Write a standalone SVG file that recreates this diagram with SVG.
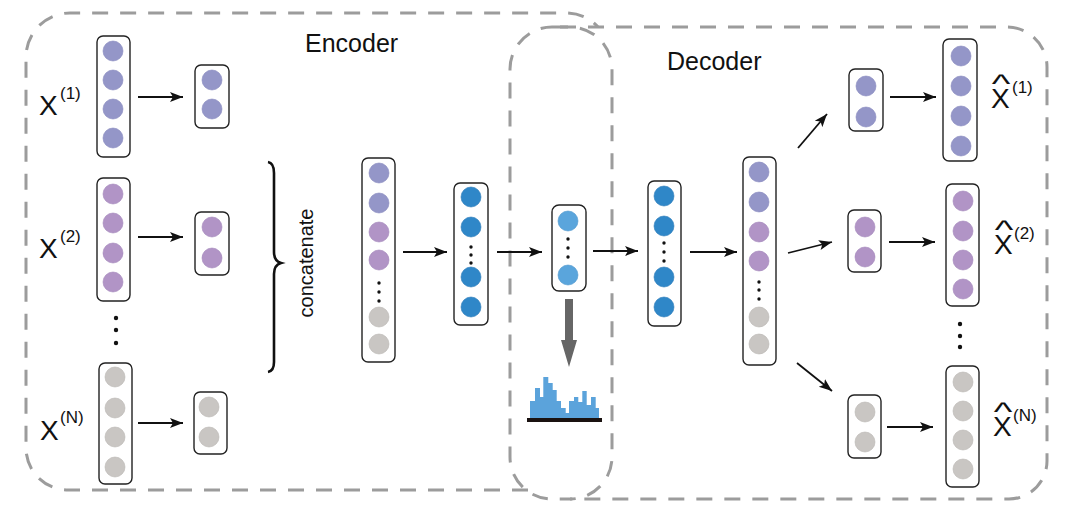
<svg xmlns="http://www.w3.org/2000/svg" width="1085" height="514" viewBox="0 0 1085 514">
<defs>
<marker id="ah" markerUnits="userSpaceOnUse" markerWidth="14" markerHeight="12" refX="13" refY="5" orient="auto" viewBox="0 0 14 10">
<path d="M0,0 L13,5 L0,10 L3,5 Z" fill="#111"/>
</marker>
</defs>
<style>
.dash{fill:none;stroke:#9c9c9c;stroke-width:3;stroke-dasharray:16 12}
.col{fill:#fff;stroke:#222;stroke-width:1.4}
.c1{fill:#9496c8;stroke:#8688bd;stroke-width:0.6}
.c2{fill:#b194c6;stroke:#a386ba;stroke-width:0.6}
.c3{fill:#c9c6c3;stroke:#b9b5b2;stroke-width:0.6}
.cb{fill:#2f87c8;stroke:#2a7bb8;stroke-width:0.6}
.cl{fill:#5aa5dc;stroke:#4f97cc;stroke-width:0.6}
.dt{fill:#111}
.arr{stroke:#111;stroke-width:1.8;fill:none;marker-end:url(#ah)}
.lbl{font-family:"Liberation Sans",Arial,sans-serif;fill:#111}
.big{font-size:28px}
.sup{font-size:17px}
.hat{font-family:"Liberation Sans",Arial,sans-serif;font-size:22px;fill:#111;text-anchor:middle}
.title{font-family:"Liberation Sans",Arial,sans-serif;font-size:25px;fill:#111}
</style>

<g id="regions">
<path class="dash" d="M528,490 L68,490 A42,42 0 0 1 26,448 L26,57 A44,44 0 0 1 70,13 L568,13 Q586,14 598,27"/>
<rect class="dash" x="510" y="27" width="102" height="472" rx="42"/>
<path class="dash" d="M560,27 L1007,27 A40,40 0 0 1 1047,67 L1047,461 A38,38 0 0 1 1009,499 L570,499"/>
<text class="title" x="305" y="52">Encoder</text>
<text class="title" x="667" y="70">Decoder</text>
</g>

<g id="x1-input">
<text class="lbl big" x="39" y="115">X<tspan class="sup" x="60" y="99">(1)</tspan></text>
<rect class="col" x="97" y="36" width="33" height="121" rx="6"/>
<circle class="c1" cx="113" cy="51" r="10"/><circle class="c1" cx="113" cy="80" r="10"/><circle class="c1" cx="113" cy="109" r="10"/><circle class="c1" cx="113" cy="138" r="10"/>
</g>
<g id="x1-code">
<rect class="col" x="195" y="65" width="34" height="63" rx="6"/>
<circle class="c1" cx="212" cy="80" r="10"/><circle class="c1" cx="212" cy="109" r="10"/>
</g>

<g id="x2-input">
<text class="lbl big" x="39" y="258">X<tspan class="sup" x="60" y="242">(2)</tspan></text>
<rect class="col" x="97" y="178" width="33" height="123" rx="6"/>
<circle class="c2" cx="113" cy="194" r="10"/><circle class="c2" cx="113" cy="223" r="10"/><circle class="c2" cx="113" cy="253" r="10"/><circle class="c2" cx="113" cy="282" r="10"/>
</g>
<g id="x2-code">
<rect class="col" x="195" y="212" width="34" height="63" rx="6"/>
<circle class="c2" cx="212" cy="227" r="10"/><circle class="c2" cx="212" cy="258" r="10"/>
</g>

<g id="input-dots">
<circle class="dt" cx="116" cy="318" r="2.2"/><circle class="dt" cx="116" cy="330" r="2.2"/><circle class="dt" cx="116" cy="343" r="2.2"/>
</g>

<g id="xn-input">
<text class="lbl big" x="40" y="440">X<tspan class="sup" x="60" y="423">(N)</tspan></text>
<rect class="col" x="99" y="363" width="33" height="121" rx="6"/>
<circle class="c3" cx="115" cy="377" r="10"/><circle class="c3" cx="115" cy="408" r="10"/><circle class="c3" cx="115" cy="437" r="10"/><circle class="c3" cx="115" cy="467" r="10"/>
</g>
<g id="xn-code">
<rect class="col" x="194" y="392" width="33" height="62" rx="6"/>
<circle class="c3" cx="209" cy="407" r="10"/><circle class="c3" cx="209" cy="437" r="10"/>
</g>

<g id="concatenate">
<path d="M268,162 Q274,163 274,173 L274,252 Q274,261 281,263 Q274,265 274,274 L274,362 Q274,371 268,372" fill="none" stroke="#111" stroke-width="2.6"/>
<text class="lbl" font-size="20" transform="translate(313,263) rotate(-90)" text-anchor="middle">concatenate</text>
</g>

<g id="concat-col">
<rect class="col" x="362" y="158" width="33" height="204" rx="6"/>
<circle class="c1" cx="379" cy="173" r="10"/><circle class="c1" cx="379" cy="203" r="10"/><circle class="c2" cx="379" cy="232" r="10"/><circle class="c2" cx="379" cy="260" r="10"/>
<circle class="dt" cx="379" cy="283" r="1.7"/><circle class="dt" cx="379" cy="292" r="1.7"/><circle class="dt" cx="379" cy="301" r="1.7"/>
<circle class="c3" cx="379" cy="317" r="10"/><circle class="c3" cx="379" cy="344" r="10"/>
</g>

<g id="enc-hidden">
<rect class="col" x="454" y="183" width="34" height="142" rx="6"/>
<circle class="cb" cx="471" cy="197" r="10"/><circle class="cb" cx="471" cy="227" r="10"/>
<circle class="dt" cx="471" cy="247" r="1.7"/><circle class="dt" cx="471" cy="255" r="1.7"/><circle class="dt" cx="471" cy="263" r="1.7"/>
<circle class="cb" cx="471" cy="277" r="10"/><circle class="cb" cx="471" cy="307" r="10"/>
</g>

<g id="latent">
<rect class="col" x="552" y="205" width="34" height="86" rx="7"/>
<circle class="cl" cx="568" cy="221" r="10"/>
<circle class="dt" cx="568" cy="239" r="1.7"/><circle class="dt" cx="568" cy="248" r="1.7"/><circle class="dt" cx="568" cy="257" r="1.7"/>
<circle class="cl" cx="568" cy="275" r="10"/>
</g>

<g id="histogram">
<path d="M565,299 L573,299 L573,340 L577,340 L569,367 L561,340 L565,340 Z" fill="#666"/>
<path d="M530,418 L530,401 L535,401 L535,388 L540,388 L540,397 L543.3,397 L543.3,377 L548.3,377 L548.3,383 L552.7,383 L552.7,390 L556.7,390 L556.7,401 L561,401 L561,408 L565.7,408 L565.7,413 L569,413 L569,401 L574,401 L574,397 L578.3,397 L578.3,402 L582.3,402 L582.3,391 L586.7,391 L586.7,405 L591,405 L591,397 L595.7,397 L595.7,408 L599,408 L599,418 Z" fill="#5ba3db"/>
<rect x="527" y="418" width="75" height="4" fill="#1a1210"/>
</g>

<g id="dec-hidden">
<rect class="col" x="648" y="181" width="33" height="145" rx="6"/>
<circle class="cb" cx="664" cy="196" r="10"/><circle class="cb" cx="664" cy="226" r="10"/>
<circle class="dt" cx="664" cy="243" r="1.7"/><circle class="dt" cx="664" cy="252" r="1.7"/><circle class="dt" cx="664" cy="261" r="1.7"/>
<circle class="cb" cx="664" cy="277" r="10"/><circle class="cb" cx="664" cy="307" r="10"/>
</g>

<g id="dec-concat">
<rect class="col" x="743" y="157" width="33" height="208" rx="6"/>
<circle class="c1" cx="759" cy="172" r="10"/><circle class="c1" cx="759" cy="202" r="10"/><circle class="c2" cx="759" cy="232" r="10"/><circle class="c2" cx="759" cy="261" r="10"/>
<circle class="dt" cx="759" cy="282" r="1.7"/><circle class="dt" cx="759" cy="290" r="1.7"/><circle class="dt" cx="759" cy="299" r="1.7"/>
<circle class="c3" cx="759" cy="317" r="10"/><circle class="c3" cx="759" cy="344" r="10"/>
</g>

<g id="y1-code">
<rect class="col" x="849" y="69" width="34" height="62" rx="6"/>
<circle class="c1" cx="866" cy="86" r="10"/><circle class="c1" cx="866" cy="117" r="10"/>
</g>
<g id="y1-output">
<rect class="col" x="943" y="39" width="34" height="122" rx="6"/>
<circle class="c1" cx="961" cy="56" r="10"/><circle class="c1" cx="961" cy="86" r="10"/><circle class="c1" cx="961" cy="116" r="10"/><circle class="c1" cx="961" cy="146" r="10"/>
<text class="lbl big" x="991" y="108">X<tspan class="sup" x="1012" y="93">(1)</tspan></text>
<text class="hat" transform="translate(1001,93) scale(1.8,1.2)">^</text>
</g>

<g id="y2-code">
<rect class="col" x="848" y="210" width="33" height="62" rx="6"/>
<circle class="c2" cx="865" cy="227" r="10"/><circle class="c2" cx="865" cy="257" r="10"/>
</g>
<g id="y2-output">
<rect class="col" x="946" y="184" width="33" height="122" rx="6"/>
<circle class="c2" cx="963" cy="201" r="10"/><circle class="c2" cx="963" cy="231" r="10"/><circle class="c2" cx="963" cy="260" r="10"/><circle class="c2" cx="963" cy="289" r="10"/>
<text class="lbl big" x="994" y="254">X<tspan class="sup" x="1014" y="239">(2)</tspan></text>
<text class="hat" transform="translate(1004,239) scale(1.8,1.2)">^</text>
</g>

<g id="output-dots">
<circle class="dt" cx="960" cy="324" r="2.2"/><circle class="dt" cx="960" cy="336" r="2.2"/><circle class="dt" cx="960" cy="347" r="2.2"/>
</g>

<g id="yn-code">
<rect class="col" x="848" y="395" width="33" height="63" rx="6"/>
<circle class="c3" cx="865" cy="412" r="10"/><circle class="c3" cx="865" cy="442" r="10"/>
</g>
<g id="yn-output">
<rect class="col" x="946" y="366" width="33" height="121" rx="6"/>
<circle class="c3" cx="963" cy="382" r="10"/><circle class="c3" cx="963" cy="411" r="10"/><circle class="c3" cx="963" cy="440" r="10"/><circle class="c3" cx="963" cy="469" r="10"/>
<text class="lbl big" x="993" y="436">X<tspan class="sup" x="1013" y="421">(N)</tspan></text>
<text class="hat" transform="translate(1003,421) scale(1.8,1.2)">^</text>
</g>

<g id="connectors">
<line class="arr" x1="138" y1="97" x2="183" y2="97"/>
<line class="arr" x1="138" y1="237" x2="183" y2="237"/>
<line class="arr" x1="138" y1="423" x2="183" y2="423"/>
<line class="arr" x1="403" y1="252" x2="447" y2="252"/>
<line class="arr" x1="497" y1="252" x2="542" y2="252"/>
<line class="arr" x1="593" y1="251" x2="638" y2="251"/>
<line class="arr" x1="690" y1="252" x2="737" y2="252"/>
<line class="arr" x1="798" y1="148" x2="827" y2="114"/>
<line class="arr" x1="788" y1="253" x2="832" y2="242"/>
<line class="arr" x1="797" y1="363" x2="832" y2="391"/>
<line class="arr" x1="890" y1="97" x2="936" y2="97"/>
<line class="arr" x1="889" y1="242" x2="935" y2="242"/>
<line class="arr" x1="887" y1="427" x2="933" y2="427"/>
</g>
</svg>
